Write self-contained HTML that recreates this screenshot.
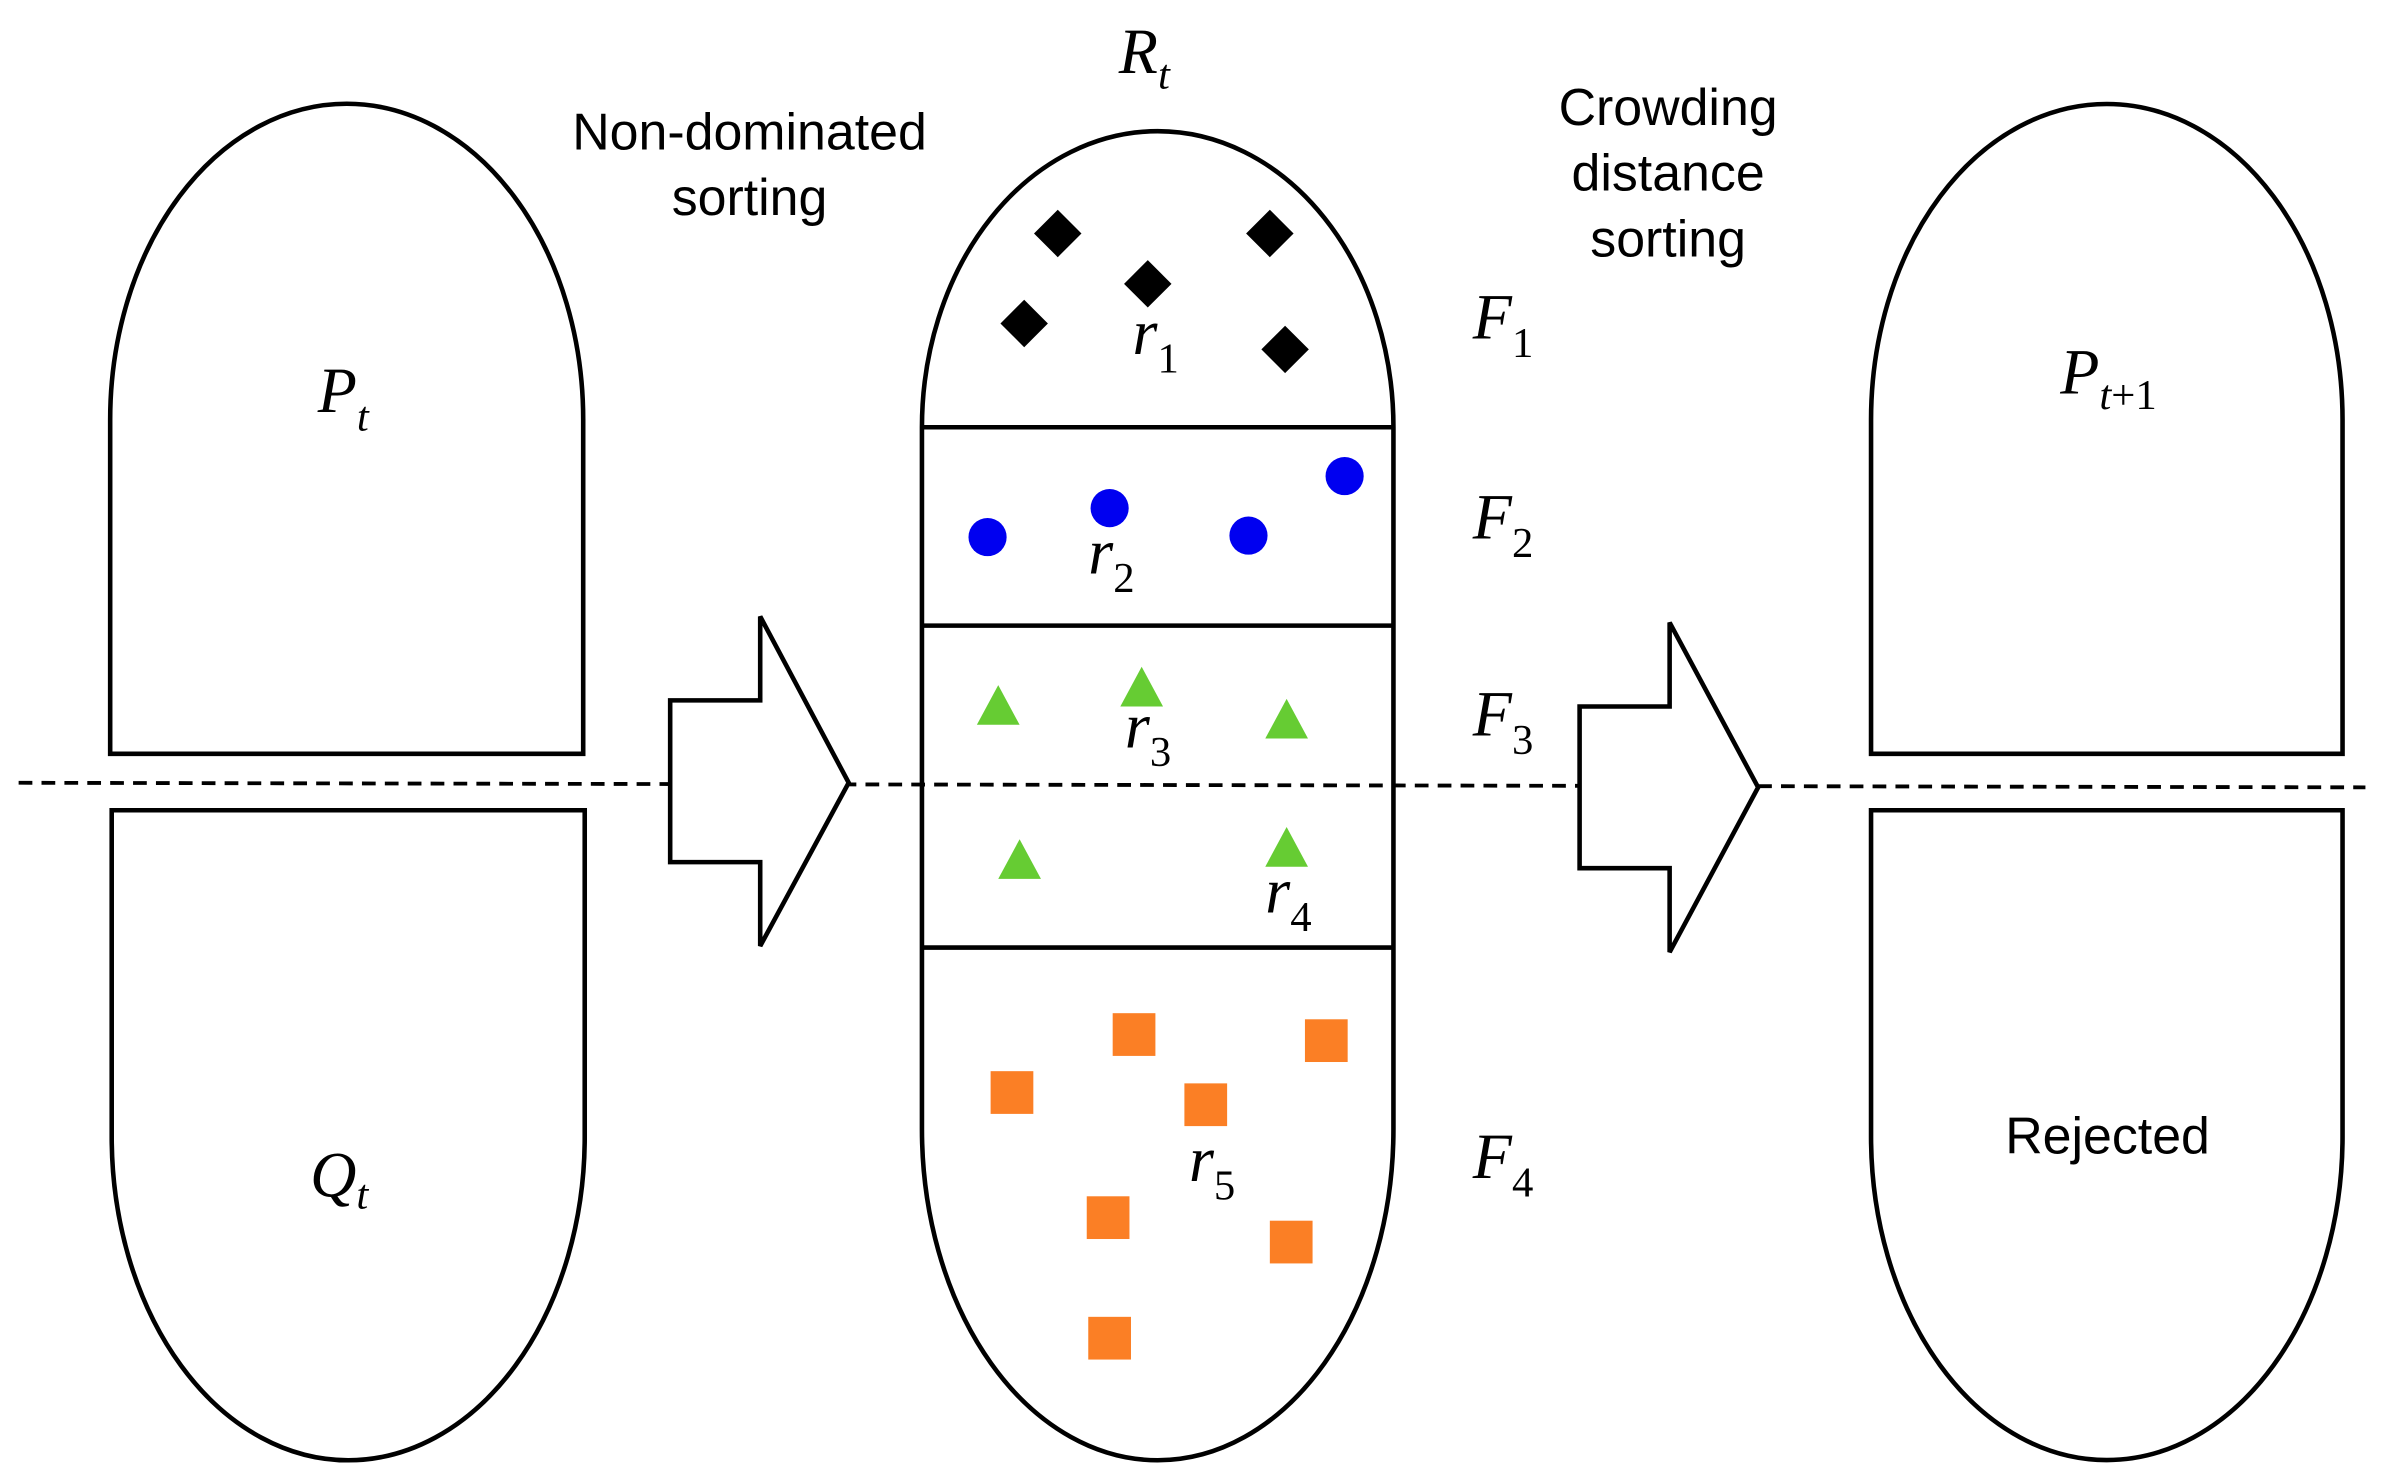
<!DOCTYPE html>
<html><head><meta charset="utf-8"><style>
html,body{margin:0;padding:0;background:#fff;}
svg{display:block;}
.s{font-family:"Liberation Sans",sans-serif;font-size:34px;fill:#000;}
.m{font-family:"Liberation Serif",serif;font-style:italic;font-size:42px;fill:#000;}
.sub{font-family:"Liberation Serif",serif;font-style:normal;font-size:28px;}
.subi{font-family:"Liberation Serif",serif;font-style:italic;font-size:28px;}
</style></head><body>
<svg width="2381" height="1474" viewBox="0 0 1560 966" xmlns="http://www.w3.org/2000/svg">
<g fill="none" stroke="#000" stroke-width="3">
<path d="M72,494 L72,275 A155,207 0 0 1 382,275 L382,494 Z"/>
<path d="M73,531 L383,531 L383,745 A155,212 0 0 1 73,745 Z"/>
<path d="M1226,494 L1226,275 A154.5,207 0 0 1 1535,275 L1535,494 Z"/>
<path d="M1226,531 L1535,531 L1535,745 A154.5,212 0 0 1 1226,745 Z"/>
<path d="M604,280 A154.5,194 0 0 1 913,280 L913,740 A154.5,217 0 0 1 604,740 Z"/>
<line x1="604" y1="280" x2="913" y2="280"/>
<line x1="604" y1="410" x2="913" y2="410"/>
<line x1="604" y1="621" x2="913" y2="621"/>
<line x1="12" y1="513" x2="1550" y2="516" stroke-dasharray="9,6" stroke-width="2.5"/>
<path d="M439,459 L498,459 L498,404 L556,513 L498,620 L498,565 L439,565 Z" fill="#fff"/>
<path d="M1035,463 L1094,463 L1094,408 L1152,516 L1094,624 L1094,569 L1035,569 Z" fill="#fff"/>
</g>
<g fill="#000">
<rect x="682" y="142" width="22" height="22" transform="rotate(45 693 153)"/>
<rect x="821" y="142" width="22" height="22" transform="rotate(45 832 153)"/>
<rect x="741" y="175" width="22" height="22" transform="rotate(45 752 186)"/>
<rect x="660" y="201" width="22" height="22" transform="rotate(45 671 212)"/>
<rect x="831" y="218" width="22" height="22" transform="rotate(45 842 229)"/>
</g>
<g fill="#0000f0">
<circle cx="881" cy="312" r="12.5"/><circle cx="727" cy="333" r="12.5"/>
<circle cx="647" cy="352" r="12.5"/><circle cx="818" cy="351" r="12.5"/>
</g>
<g fill="#66cc33">
<path d="M640,475 L668,475 L654,449 Z"/>
<path d="M734,463 L762,463 L748,437 Z"/>
<path d="M829,484 L857,484 L843,458 Z"/>
<path d="M654,576 L682,576 L668,550 Z"/>
<path d="M829,568 L857,568 L843,542 Z"/>
</g>
<g fill="#fb7f25">
<rect x="729" y="664" width="28" height="28"/><rect x="855" y="668" width="28" height="28"/>
<rect x="649" y="702" width="28" height="28"/><rect x="776" y="710" width="28" height="28"/>
<rect x="712" y="784" width="28" height="28"/><rect x="832" y="800" width="28" height="28"/>
<rect x="713" y="863" width="28" height="28"/>
</g>
<text class="m" x="733" y="48">R<tspan class="subi" dy="10">t</tspan></text>
<text class="m" x="208" y="270">P<tspan class="subi" dy="12">t</tspan></text>
<text class="m" x="203" y="784">Q<tspan class="subi" dy="8">t</tspan></text>
<text class="m" x="1350" y="258">P<tspan class="subi" dy="10">t</tspan><tspan class="sub">+1</tspan></text>
<text class="m" x="965" y="222">F<tspan class="sub" dy="12">1</tspan></text>
<text class="m" x="965" y="353">F<tspan class="sub" dy="12">2</tspan></text>
<text class="m" x="965" y="482">F<tspan class="sub" dy="12">3</tspan></text>
<text class="m" x="965" y="772">F<tspan class="sub" dy="12">4</tspan></text>
<text class="m" x="742" y="232">r<tspan class="sub" dy="12">1</tspan></text>
<text class="m" x="713" y="376">r<tspan class="sub" dy="12">2</tspan></text>
<text class="m" x="737" y="490">r<tspan class="sub" dy="12">3</tspan></text>
<text class="m" x="829" y="598">r<tspan class="sub" dy="12">4</tspan></text>
<text class="m" x="779" y="774">r<tspan class="sub" dy="12">5</tspan></text>
<text class="s" x="491" y="98" text-anchor="middle">Non-dominated</text>
<text class="s" x="491" y="141" text-anchor="middle">sorting</text>
<text class="s" x="1093" y="82" text-anchor="middle">Crowding</text>
<text class="s" x="1093" y="125" text-anchor="middle">distance</text>
<text class="s" x="1093" y="168" text-anchor="middle">sorting</text>
<text class="s" x="1381" y="756" text-anchor="middle">Rejected</text>
</svg>
</body></html>
